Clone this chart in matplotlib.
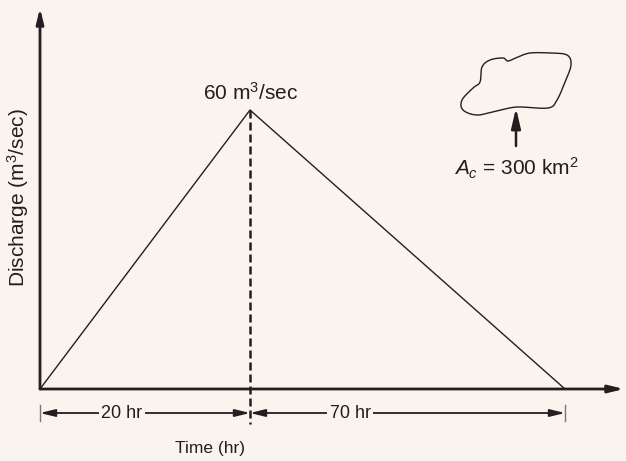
import numpy as np
import matplotlib
matplotlib.use("Agg")
import matplotlib.pyplot as plt
from matplotlib.path import Path
from matplotlib.patches import PathPatch, FancyArrowPatch

plt.rcParams["font.family"] = ["Liberation Sans", "DejaVu Sans"]
plt.rcParams["mathtext.fontset"] = "custom"
plt.rcParams["mathtext.rm"] = "Liberation Sans"
plt.rcParams["mathtext.it"] = "Liberation Sans:italic"

# Triangular hydrograph
time_hr = [0, 20, 90]
discharge = [0, 60, 0]
peak_label = r"60 m$^3$/sec"
rise_label = "20 hr"
fall_label = "70 hr"
area_label = r"$A_c$ = 300 km$^2$"
xlabel = "Time (hr)"
ylabel = r"Discharge (m$^3$/sec)"

BG = "#FAF3EE"
INK = "#231F20"
FS = 15

# Schematic (not-to-scale) time axis: rising limb drawn wider than recession
knots_t = np.array([0.0, 20.0, 90.0, 300.0])
knots_u = np.array([0.0, 210.0, 525.0, 525.0 + 210.0 * 4.5])


def fwd(t):
    return np.interp(t, knots_t, knots_u)


def inv(u):
    return np.interp(u, knots_u, knots_t)


W, H = 626, 461
fig = plt.figure(figsize=(W / 100, H / 100), dpi=100, facecolor=BG)
x0, y0 = 40, 389          # origin in pixels (from top)
x1, ytop = 624, 8
ax = fig.add_axes([x0 / W, (H - y0) / H, (x1 - x0) / W, (y0 - ytop) / H])
ax.set_facecolor(BG)
ax.set_xscale("function", functions=(fwd, inv))
ax.set_xlim(0, inv(x1 - x0))
ax.set_ylim(0, 60 * (y0 - ytop) / (y0 - 110))
for s in ax.spines.values():
    s.set_visible(False)
ax.set_xticks([])
ax.set_yticks([])

# Axes with arrowheads
arrow_kw = dict(arrowstyle="-|>,head_length=0.9,head_width=0.22", color=INK,
                lw=2.0, shrinkA=0, shrinkB=0)
ax.annotate("", xy=(0, 1), xytext=(0, 0), xycoords="axes fraction",
            arrowprops=arrow_kw, annotation_clip=False)
ax.annotate("", xy=(1, 0), xytext=(0, 0), xycoords="axes fraction",
            arrowprops=arrow_kw, annotation_clip=False)

# Hydrograph
ax.plot(time_hr, discharge, color=INK, lw=1.0, clip_on=False, zorder=3)

# Peak dashed line down through the dimension row
tpk = time_hr[int(np.argmax(discharge))]
ymax = ax.get_ylim()[1]
py = ymax / (y0 - ytop)  # data units per pixel
ax.plot([tpk, tpk], [max(discharge), -35 * py], color=INK, lw=1.8,
        ls=(0, (3.2, 1.6)), clip_on=False, zorder=3)
ax.text(tpk + 0.2, max(discharge) + 10 * py, peak_label, ha="center",
        va="baseline", fontsize=FS, color=INK)

# Dimension lines
ydim = -24 * py
dim_kw = dict(arrowstyle="<|-|>,head_length=0.9,head_width=0.22", color=INK,
              lw=1.3, shrinkA=0, shrinkB=0)
ax.annotate("", xy=(time_hr[0], ydim), xytext=(tpk, ydim), arrowprops=dim_kw,
            annotation_clip=False)
ax.annotate("", xy=(tpk, ydim), xytext=(time_hr[-1], ydim), arrowprops=dim_kw,
            annotation_clip=False)
for t in (time_hr[0], time_hr[-1]):
    ax.plot([t, t], [ydim - 8 * py, ydim + 8 * py], color="#777777", lw=1.0,
            clip_on=False)
bbox = dict(boxstyle="square,pad=0.15", fc=BG, ec="none")
ax.text(inv(82), ydim, rise_label, ha="center", va="center", fontsize=13,
        color=INK, bbox=bbox, zorder=4)
ax.text(inv(310), ydim, fall_label, ha="center", va="center", fontsize=13,
        color=INK, bbox=bbox, zorder=4)

# Axis titles
fig.text(210 / W, 1 - 448 / H, xlabel, ha="center", va="center", fontsize=12.5,
         color=INK)
fig.text(18 / W, 1 - 198 / H, ylabel, ha="center", va="center", fontsize=FS,
         rotation=90, color=INK)

# Catchment outline (decorative sketch)
cloud_px = np.array([
    (482, 67), (490, 60), (503, 58), (508, 61), (518, 57), (530, 53),
    (550, 53), (567, 55), (571, 65), (565, 82), (557, 100), (548, 108),
    (517, 107), (497, 111), (477, 115), (463, 110), (462, 100), (473, 88),
    (480, 82),
], dtype=float)


def closed_spline(p, n=20):
    out = []
    m = len(p)
    for i in range(m):
        p0, p1, p2, p3 = p[i - 1], p[i], p[(i + 1) % m], p[(i + 2) % m]
        for s in np.linspace(0, 1, n, endpoint=False):
            s2, s3 = s * s, s * s * s
            out.append(0.5 * ((2 * p1) + (-p0 + p2) * s
                              + (2 * p0 - 5 * p1 + 4 * p2 - p3) * s2
                              + (-p0 + 3 * p1 - 3 * p2 + p3) * s3))
    out.append(out[0])
    return np.array(out)


cl = closed_spline(cloud_px)
cl_fig = np.column_stack([cl[:, 0] / W, 1 - cl[:, 1] / H])
fig.add_artist(PathPatch(Path(cl_fig), transform=fig.transFigure, fill=False,
                         ec=INK, lw=1.0))

fig.add_artist(FancyArrowPatch(
    (516 / W, 1 - 146 / H), (516 / W, 1 - 108 / H), transform=fig.transFigure,
    arrowstyle="-|>,head_length=6,head_width=1.4", color=INK, lw=1.8,
    shrinkA=0, shrinkB=0, mutation_scale=2))
fig.text(516 / W, 1 - 168 / H, area_label, ha="center", va="center",
         fontsize=FS, color=INK)

fig.savefig("out.png", dpi=100, facecolor=BG)
